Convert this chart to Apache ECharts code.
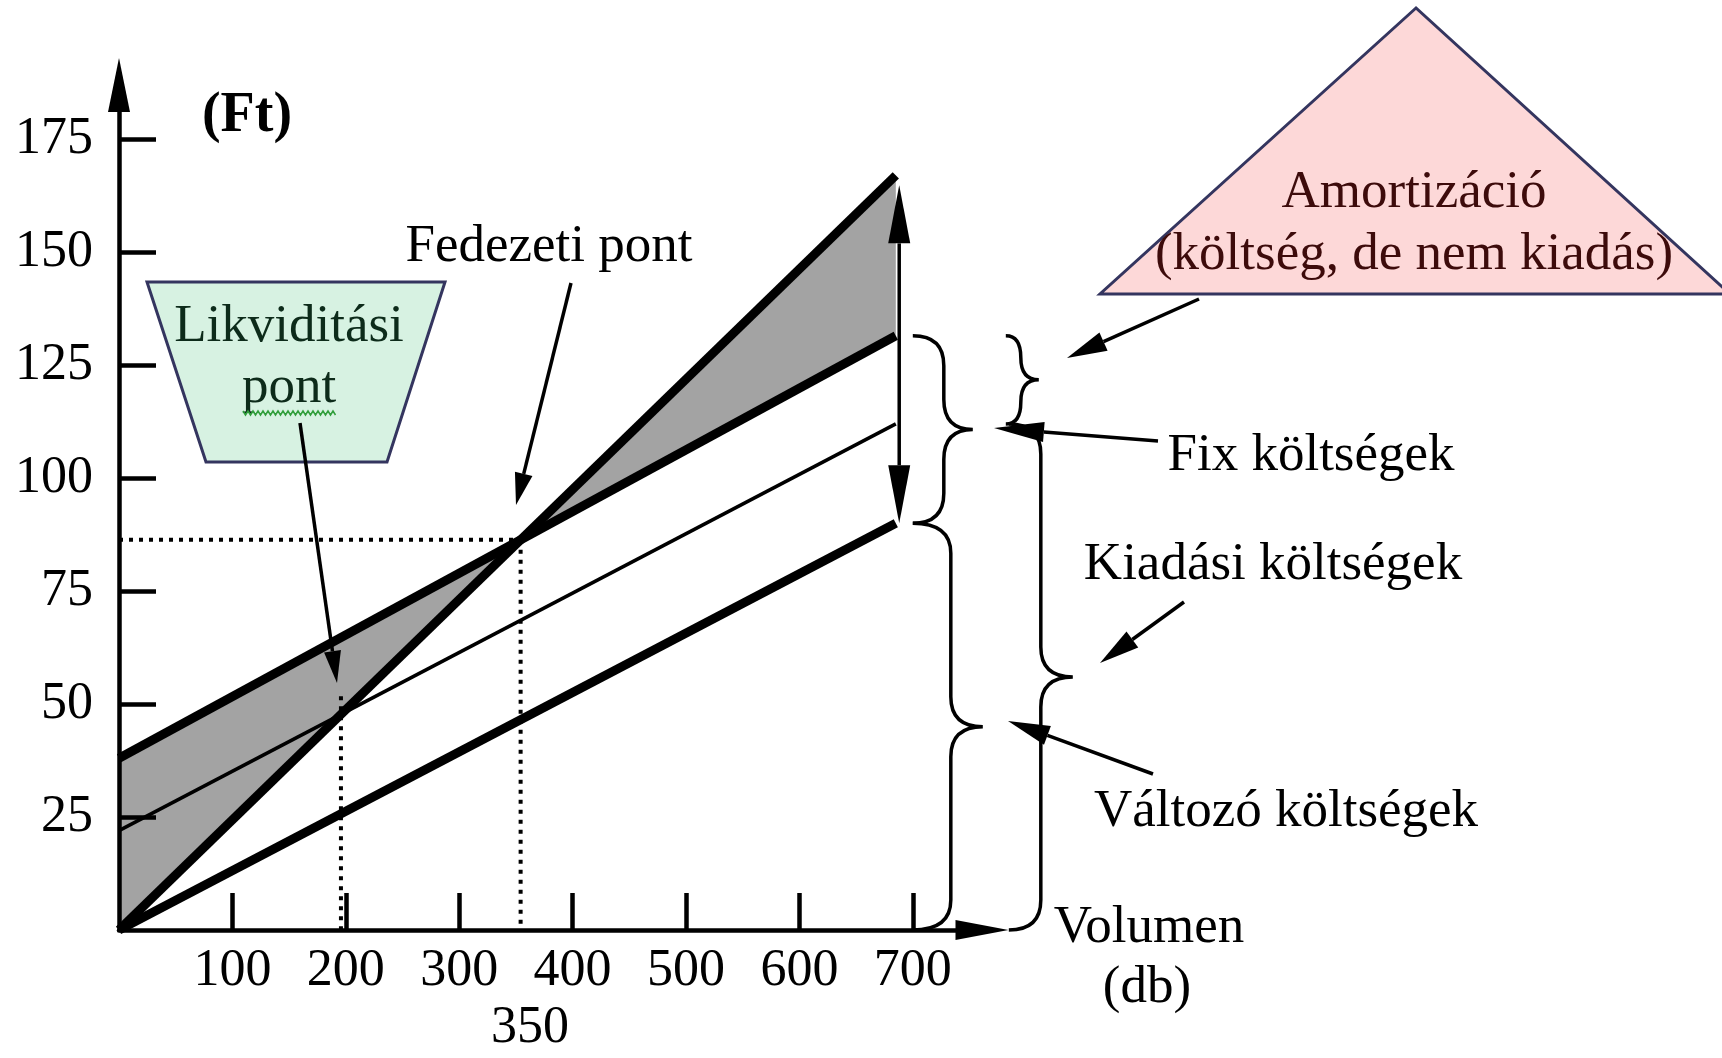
<!DOCTYPE html>
<html>
<head>
<meta charset="utf-8">
<title>Fedezeti pont és likviditási pont</title>
<script src="https://cdn.jsdelivr.net/npm/echarts@6/dist/echarts.min.js"></script>
<style>
  html, body { margin: 0; padding: 0; background: #fff; }
  #chart { width: 1722px; height: 1058px; }
</style>
</head>
<body>
<div id="chart"></div>
<script>
// volumen (db) at the two ends of every line
const volume = [0, 685];
// Ft at those volumes
const revenue = [0, 167];
const totalCost = [38, 131.5];
const cashCost = [22, 112];       // kiadási költségek
const variableCost = [0, 90];

const xTicks = [100, 200, 300, 400, 500, 600, 700];
const yTicks = [25, 50, 75, 100, 125, 150, 175];
const breakEvenTick = 350;

const SERIF = '"Liberation Serif", "DejaVu Serif", serif';

// where two straight lines cross (both given at volume[0] and volume[1])
function crossing(a, b) {
  const span = volume[1] - volume[0];
  const sa = (a[1] - a[0]) / span;
  const sb = (b[1] - b[0]) / span;
  const x = (b[0] - a[0]) / (sa - sb);
  return [volume[0] + x, a[0] + sa * x];
}
const breakEven = crossing(revenue, totalCost);
const liquidity = crossing(revenue, cashCost);

const pairs = (ys) => volume.map((v, i) => [v, ys[i]]);

// gray areas between revenue and total cost
const shades = [
  [[0, totalCost[0]], breakEven, [0, revenue[0]]],
  [breakEven, [volume[1], revenue[1]], [volume[1], totalCost[1]]]
];

// curly braces right of the lines: value range + pixel layout
const braces = [
  { top: totalCost[1], bottom: variableCost[1], gap: 17, arm: 31, tip: 60 },
  { top: variableCost[1], bottom: 0, gap: 17, arm: 38, tip: 70 },
  { top: totalCost[1], bottom: cashCost[1], gap: 110, arm: 15, tip: 33 },
  { top: cashCost[1], bottom: 0, gap: 113, arm: 32, tip: 64 }
];

function arrowParts(from, to, head, headW, width, both, z) {
  const dx = to[0] - from[0], dy = to[1] - from[1];
  const len = Math.hypot(dx, dy);
  const ux = dx / len, uy = dy / len;
  const px = -uy * headW / 2, py = ux * headW / 2;
  const bx = to[0] - ux * head, by = to[1] - uy * head;
  let sx = from[0], sy = from[1];
  const parts = [
    { type: 'polygon', shape: { points: [to, [bx + px, by + py], [bx - px, by - py]] }, style: { fill: '#000' } }
  ];
  if (both) {
    const ax = from[0] + ux * head, ay = from[1] + uy * head;
    parts.push({ type: 'polygon', shape: { points: [from, [ax + px, ay + py], [ax - px, ay - py]] }, style: { fill: '#000' } });
    sx = ax; sy = ay;
  }
  parts.push({ type: 'line', shape: { x1: sx, y1: sy, x2: bx, y2: by }, style: { stroke: '#000', lineWidth: width } });
  if (z != null) parts.forEach((p) => { p.z = z; p.silent = true; });
  return parts;
}

function bracePath(x0, y1, y2, arm, tip) {
  const xs = x0 + arm, xt = x0 + tip, ym = (y1 + y2) / 2;
  const r = Math.min(30, (y2 - y1) / 4);
  return `M${x0},${y1} Q${xs},${y1} ${xs},${y1 + r} L${xs},${ym - r} Q${xs},${ym} ${xt},${ym} ` +
         `Q${xs},${ym} ${xs},${ym + r} L${xs},${y2 - r} Q${xs},${y2} ${x0},${y2}`;
}

function zigzag(x1, x2, y) {
  const pts = [];
  for (let x = x1, k = 0; x <= x2; x += 2.5, k++) pts.push([x, y + (k % 2 ? 2 : -2)]);
  return pts;
}

const lineSeries = (name, ys, width) => ({
  name, type: 'line', data: pairs(ys), symbol: 'none', z: 3, silent: true,
  lineStyle: { color: '#000', width, cap: 'butt' }
});
const dotted = (data) => ({
  type: 'line', data, symbol: 'none', z: 2, silent: true,
  lineStyle: { color: '#000', width: 4, type: [4, 6] }
});

const textStyle = (text, x, y, extra) => ({
  type: 'text', z: 10, silent: true,
  style: Object.assign({ text, x, y, textAlign: 'center', textVerticalAlign: 'middle',
    font: '53px ' + SERIF, fill: '#000' }, extra || {})
});

// callout arrows, pixel layout: from label to target
const callouts = [
  [[571, 283], [516, 505], 32, 18],
  [[300, 423], [337, 683], 32, 17],
  [[1199, 299], [1067, 358], 40, 20],
  [[1158, 441], [994, 428], 50, 20],
  [[1184, 602], [1100, 663], 40, 20],
  [[1153, 774], [1008, 721], 42, 20]
];

const chart = echarts.init(document.getElementById('chart'));
chart.setOption({
  animation: false,
  backgroundColor: '#fff',
  grid: { left: 119, right: 740, top: 85, bottom: 128 },
  xAxis: {
    type: 'value', min: 0, max: 761, z: 5,
    splitLine: { show: false },
    axisLine: { symbol: ['none', 'triangle'], symbolSize: [20, 53], lineStyle: { color: '#000', width: 4.5 } },
    axisTick: { inside: true, length: 37, customValues: xTicks, lineStyle: { color: '#000', width: 4.5 } },
    axisLabel: {
      customValues: xTicks.concat([breakEvenTick]),
      margin: 15, color: '#000', fontSize: 52, fontFamily: SERIF,
      formatter: (v) => v === breakEvenTick ? '{be|' + v + '}' : String(v),
      rich: { be: { fontSize: 52, fontFamily: SERIF, color: '#000', padding: [57, 0, 0, 28] } }
    }
  },
  yAxis: {
    type: 'value', min: 0, max: 187, z: 5,
    splitLine: { show: false },
    axisLine: { symbol: ['none', 'triangle'], symbolSize: [22, 54], lineStyle: { color: '#000', width: 4.5 } },
    axisTick: { inside: true, length: 37, customValues: yTicks, lineStyle: { color: '#000', width: 4.5 } },
    axisLabel: { customValues: yTicks, margin: 26, color: '#000', fontSize: 52, fontFamily: SERIF }
  },
  series: [
    {
      type: 'custom', z: 1, silent: true,
      data: shades.map((_, i) => [i]),
      renderItem: (params, api) => ({
        type: 'polygon',
        shape: { points: shades[params.dataIndex].map((p) => api.coord(p)) },
        style: { fill: '#a3a3a3' }
      })
    },
    dotted([[0, breakEven[1]], breakEven]),
    dotted([breakEven, [breakEven[0], 0]]),
    dotted([[liquidity[0], liquidity[1] + 4], [liquidity[0], 0]]),
    lineSeries('Árbevétel', revenue, 9),
    lineSeries('Összes költség', totalCost, 9),
    lineSeries('Kiadási költség', cashCost, 3.5),
    lineSeries('Változó költség', variableCost, 9),
    {
      type: 'custom', z: 4, silent: true,
      data: [[0]],
      renderItem: (params, api) => {
        const top = api.coord([volume[1] + 3, revenue[1]]);
        const bottom = api.coord([volume[1] + 3, variableCost[1]]);
        return { type: 'group', children: arrowParts([top[0], top[1] + 10], bottom, 58, 22, 3.5, true) };
      }
    },
    {
      type: 'custom', z: 4, silent: true,
      data: braces.map((_, i) => [i]),
      renderItem: (params, api) => {
        const b = braces[params.dataIndex];
        const p1 = api.coord([volume[1], b.top]);
        const p2 = api.coord([volume[1], b.bottom]);
        return {
          type: 'path',
          shape: { pathData: bracePath(p1[0] + b.gap, p1[1], p2[1], b.arm, b.tip) },
          style: { fill: 'none', stroke: '#000', lineWidth: 3.5 }
        };
      }
    }
  ],
  graphic: [
    textStyle('(Ft)', 247, 117, { font: 'bold 56px ' + SERIF }),
    textStyle('Fedezeti pont', 549, 247),
    textStyle('Fix költségek', 1311, 456),
    textStyle('Kiadási költségek', 1273, 565),
    textStyle('Változó költségek', 1286, 812),
    textStyle('Volumen', 1149, 928),
    textStyle('(db)', 1147, 988),
    {
      type: 'polygon', z: 8, silent: true,
      shape: { points: [[147, 282], [445, 282], [387, 462], [206, 462]] },
      style: { fill: '#d7f2e2', stroke: '#34355f', lineWidth: 3 }
    },
    textStyle('Likviditási', 289, 327, { fill: '#0d2b1a' }),
    textStyle('pont', 289, 388, { fill: '#0d2b1a' }),
    { type: 'polyline', z: 10, silent: true, shape: { points: zigzag(243, 336, 413) }, style: { stroke: '#2f9e3a', lineWidth: 1.5, fill: null } },
    {
      type: 'polygon', z: 8, silent: true,
      shape: { points: [[1416, 8], [1100, 294], [1730, 294]] },
      style: { fill: '#fdd8d8', stroke: '#34355f', lineWidth: 3 }
    },
    textStyle('Amortizáció', 1414, 193, { fill: '#3d0b0b' }),
    textStyle('(költség, de nem kiadás)', 1414, 255, { fill: '#3d0b0b' })
  ].concat(callouts.flatMap(([from, to, head, headW]) => arrowParts(from, to, head, headW, 3.5, false, 10)))
});
</script>
</body>
</html>
